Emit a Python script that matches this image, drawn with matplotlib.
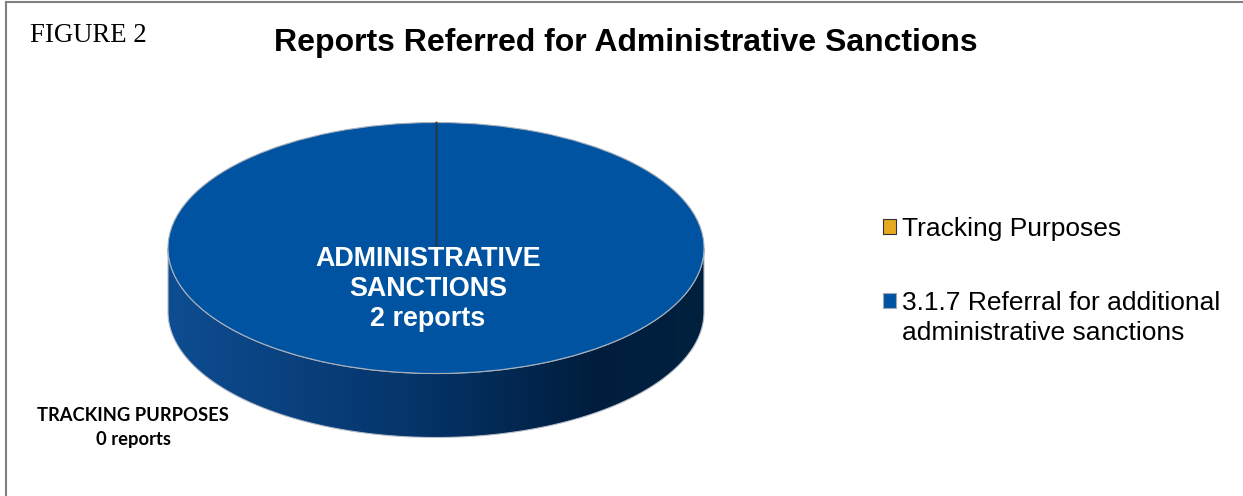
import numpy as np
import matplotlib.pyplot as plt
from matplotlib.patches import Polygon
from matplotlib.lines import Line2D
from matplotlib.colors import LinearSegmentedColormap

# chart data
categories = ['Tracking Purposes', '3.1.7 Referral for additional\nadministrative sanctions']
report_counts = [0, 2]
slice_colors = ['#E6A81E', '#0053A0']
slice_labels = ['TRACKING PURPOSES\n0 reports', 'ADMINISTRATIVE\nSANCTIONS\n2 reports']
title = 'Reports Referred for Administrative Sanctions'
figure_tag = 'FIGURE 2'

W, H = 1243, 496
fig = plt.figure(figsize=(W / 100, H / 100), dpi=100)

# pie geometry in pixels (center measured from top)
cx, cy = 436, 248
rx, ry = 268, 125.5
depth = 64 / ry
ylo, yhi = -1.9, 1.3

ax = fig.add_axes([(cx - 1.25 * rx) / W, (H - cy + ylo * ry) / H,
                   2.5 * rx / W, (yhi - ylo) * ry / H])

# side band of the 3d pie
t = np.linspace(np.pi, 2 * np.pi, 300)
top_arc = np.column_stack([np.cos(t), np.sin(t)])
bot_arc = np.column_stack([np.cos(t[::-1]), np.sin(t[::-1]) - depth])
side = Polygon(np.vstack([top_arc, bot_arc]), closed=True, facecolor='none',
               edgecolor='#b4bcc8', linewidth=0.8, zorder=2)
ax.add_patch(side)
side_cmap = LinearSegmentedColormap.from_list(
    'side', [(0, '#0E4D92'), (0.45, '#05356A'), (0.8, '#001D3D'), (1, '#00213F')])
grad = np.linspace(0, 1, 256).reshape(1, -1)
img = ax.imshow(grad, cmap=side_cmap, extent=(-1, 1, -1 - depth, 0),
                aspect='auto', zorder=1)
img.set_clip_path(side)

# top face
wedges, _ = ax.pie(report_counts, colors=slice_colors, startangle=90,
                   counterclock=False, radius=1,
                   wedgeprops=dict(edgecolor='#a8b0bc', linewidth=0.8))
for w in wedges:
    w.set_zorder(3)

# slice boundary lines
frac = np.cumsum(report_counts) / np.sum(report_counts)
for f in np.unique(np.concatenate([[0], frac])):
    ang = np.deg2rad(90 - 360 * f)
    ax.plot([0, np.cos(ang)], [0, np.sin(ang)], color='#333333', lw=1.0, zorder=4)

ax.set_aspect('auto')
ax.set_xlim(-1.25, 1.25)
ax.set_ylim(ylo, yhi)
ax.axis('off')

# slice labels
ax.text(-0.03, -0.33, slice_labels[1], ha='center', va='center', color='white',
        fontsize=19.4, fontweight='bold', family='Liberation Sans',
        linespacing=1.2, zorder=5)
ax.text(-1.13, -1.43, slice_labels[0], ha='center', va='center', color='black',
        fontsize=13.2, fontweight='bold', family='Lato', linespacing=1.5, zorder=5)

# title and tag
fig.text(626 / W, 1 - 43 / H, title, ha='center', va='center', fontsize=23,
         fontweight='bold', family='Liberation Sans')
fig.text(30 / W, 1 - 36 / H, figure_tag, ha='left', va='center', fontsize=19.3,
         family='Liberation Serif')

# legend (first line of each label; continuation lines added below)
leg_size = 19
leg_labels = [c.split('\n')[0] for c in categories]
leg = fig.legend(wedges, leg_labels, loc='upper left',
                 bbox_to_anchor=(872 / W, 1 - 206 / H), frameon=False,
                 prop={'family': 'Liberation Sans', 'size': leg_size},
                 handlelength=0.5, handleheight=0.5, handletextpad=0.25,
                 labelspacing=1.9, borderaxespad=0)
leg.legend_handles[0].set_edgecolor('#333333')
leg.legend_handles[1].set_edgecolor('#a0a8b4')

fig.canvas.draw()
for txt, cat in zip(leg.get_texts(), categories):
    bb = txt.get_window_extent()
    for k, extra in enumerate(cat.split('\n')[1:], start=1):
        fig.text(bb.x0 / W, (bb.y0 + bb.y1) / 2 / H - k * 30 / H, extra,
                 ha='left', va='center', fontsize=leg_size, family='Liberation Sans')

# frame lines
fig.add_artist(Line2D([6 / W, 6 / W], [0, 1 - 2 / H], color='#808080', lw=1.5))
fig.add_artist(Line2D([6 / W, 1], [1 - 2 / H, 1 - 2 / H], color='#808080', lw=1.5))

fig.savefig('out.png', dpi=100)
